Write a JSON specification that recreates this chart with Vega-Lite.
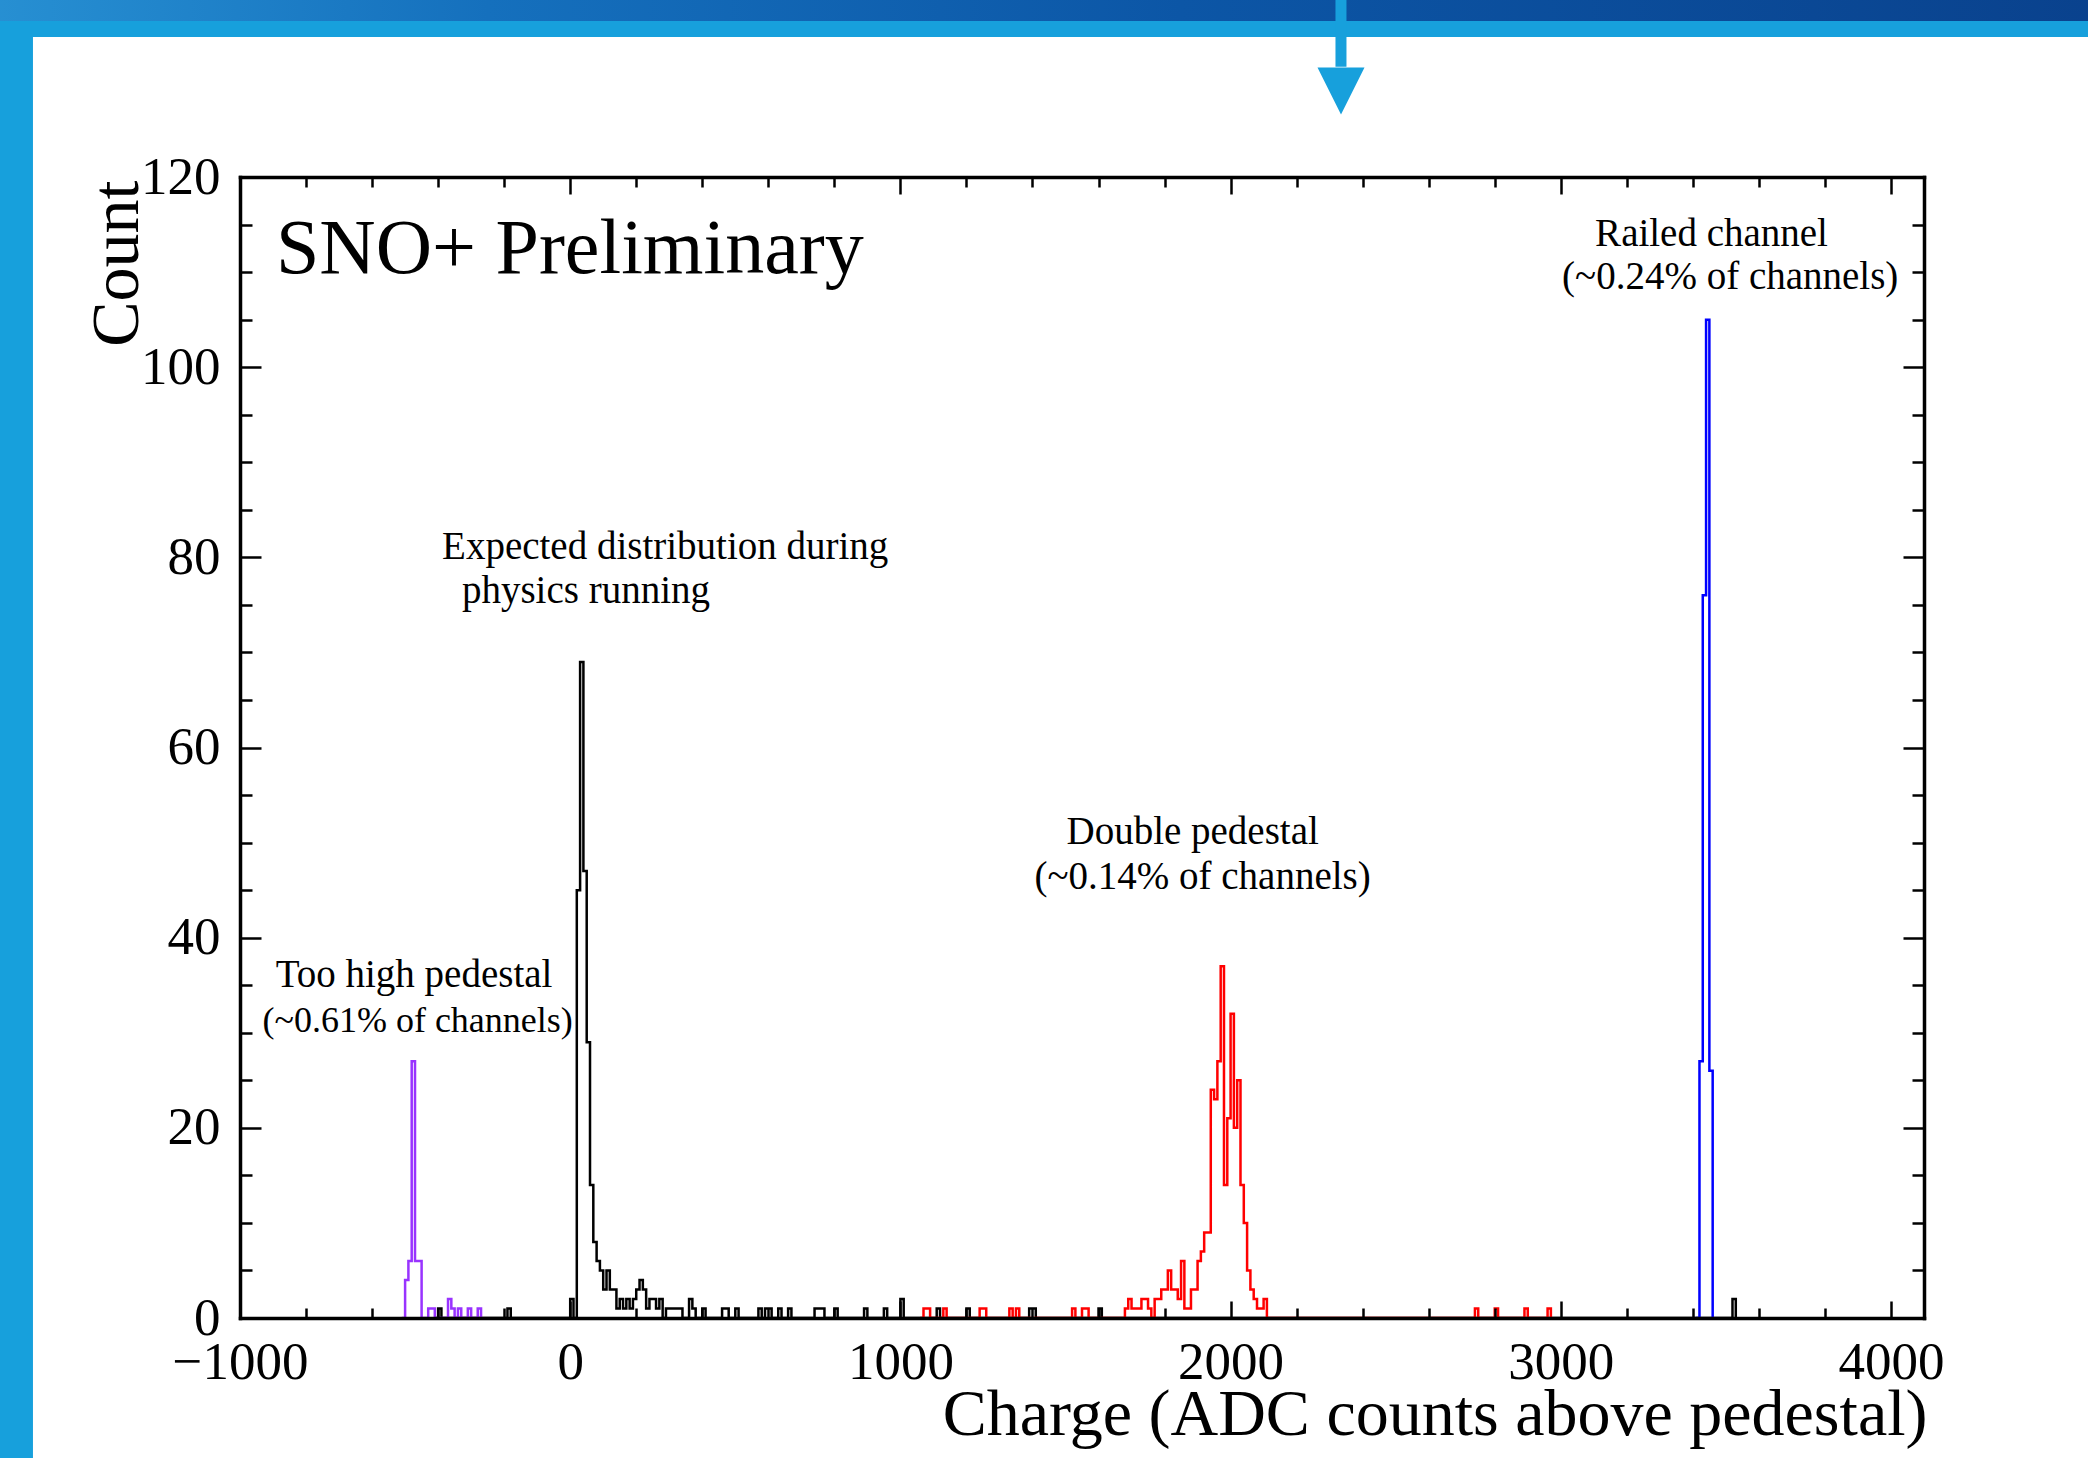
{
  "$schema": "https://vega.github.io/schema/vega-lite/v6.json",
  "width": 1684,
  "height": 1141,
  "autosize": {"type": "none"},
  "padding": {"left": 240, "top": 177, "right": 164, "bottom": 140},
  "background": "#ffffff",
  "config": {
    "view": {"stroke": null},
    "axis": {
      "labelFont": "Liberation Serif", "titleFont": "Liberation Serif",
      "labelColor": "#000000", "titleColor": "#000000", "tickColor": "#000000", "domainColor": "#000000",
      "tickWidth": 2.5, "domainWidth": 3.5, "grid": false, "zindex": 1,
      "labelFontSize": 53, "titleFontSize": 68, "titleFontWeight": "normal",
      "labelOverlap": false, "labelFlush": false, "domainCap": "square"
    }
  },
  "resolve": {"axis": {"x": "independent", "y": "independent"}},
  "layer": [
    {
      "data": {"values": [
        {"x": -2000, "x2": -1627, "y": -20, "y2": 145},
        {"x": -2000, "x2": 5000, "y": 134.73, "y2": 145}
      ]},
      "mark": {"type": "rect", "color": "#17a0dc", "clip": false},
      "encoding": {
        "x": {"field": "x", "type": "quantitative", "scale": {"domain": [-1000, 4100], "nice": false, "zero": false},
          "axis": {"orient": "bottom", "zindex": 1, "values": [-1000, 0, 1000, 2000, 3000, 4000], "ticks": false, "tickSize": 0, "domain": false,
            "labelPadding": 60, "labelBaseline": "alphabetic", "format": "d",
            "title": "Charge (ADC counts above pedestal)", "titleFontSize": 66, "titleX": 1687, "titleY": 116, "titleAlign": "right", "titleBaseline": "alphabetic", "titleAngle": 0}},
        "x2": {"field": "x2"},
        "y": {"field": "y", "type": "quantitative", "scale": {"domain": [0, 120], "nice": false, "zero": false},
          "axis": {"orient": "left", "zindex": 1, "values": [0, 20, 40, 60, 80, 100, 120], "ticks": false, "tickSize": 0, "domain": false,
            "labelPadding": 20, "format": "d",
            "title": "Count", "titleX": -103, "titleY": 3, "titleAngle": 270, "titleAlign": "right", "titleBaseline": "alphabetic"}},
        "y2": {"field": "y2"}
      }
    },
    {
      "data": {"values": [{"x": -2000, "x2": 5000, "y": 136.4, "y2": 145}]},
      "mark": {"type": "rect", "clip": false, "color": {"gradient": "linear", "x1": 0, "x2": 1, "y1": 0, "y2": 0,
        "stops": [{"offset": 0, "color": "#2a95d6"}, {"offset": 0.25, "color": "#1570bd"}, {"offset": 0.55, "color": "#0c56a6"}, {"offset": 1, "color": "#093f8a"}]}},
      "encoding": {
        "x": {"field": "x", "type": "quantitative", "scale": {"domain": [-1000, 4100], "nice": false, "zero": false},
          "axis": {"orient": "bottom", "zindex": 1, "values": [-1000, 0, 1000, 2000, 3000, 4000], "labels": false, "tickSize": -17, "domain": true, "title": null}},
        "x2": {"field": "x2"},
        "y": {"field": "y", "type": "quantitative", "scale": {"domain": [0, 120], "nice": false, "zero": false},
          "axis": {"orient": "left", "zindex": 1, "values": [0, 20, 40, 60, 80, 100, 120], "labels": false, "tickSize": -21, "domain": true, "title": null}},
        "y2": {"field": "y2"}
      }
    },
    {
      "data": {"values": [{"x": 2334.3, "y": 145, "y2": 131.6}]},
      "mark": {"type": "rule", "color": "#17a0dc", "strokeWidth": 11, "clip": false},
      "encoding": {
        "x": {"field": "x", "type": "quantitative", "scale": {"domain": [-1000, 4100], "nice": false, "zero": false},
          "axis": {"orient": "bottom", "zindex": 1, "values": [-800, -600, -400, -200, 200, 400, 600, 800, 1200, 1400, 1600, 1800, 2200, 2400, 2600, 2800, 3200, 3400, 3600, 3800], "labels": false, "tickSize": -10, "domain": false, "title": null}},
        "y": {"field": "y", "type": "quantitative", "scale": {"domain": [0, 120], "nice": false, "zero": false},
          "axis": {"orient": "left", "zindex": 1, "values": [5, 10, 15, 25, 30, 35, 45, 50, 55, 65, 70, 75, 85, 90, 95, 105, 110, 115], "labels": false, "tickSize": -12, "domain": false, "title": null}},
        "y2": {"field": "y2"}
      }
    },
    {
      "data": {"values": [{"x": 2334.3, "y": 129.05}]},
      "mark": {"type": "point", "shape": "M-1,-1L1,-1L0,1Z", "size": 2209, "filled": true, "color": "#17a0dc", "opacity": 1, "strokeWidth": 0, "clip": false},
      "encoding": {
        "x": {"field": "x", "type": "quantitative", "scale": {"domain": [-1000, 4100], "nice": false, "zero": false},
          "axis": {"orient": "top", "zindex": 1, "values": [-1000, 0, 1000, 2000, 3000, 4000], "labels": false, "tickSize": -17, "domain": true, "title": null}},
        "y": {"field": "y", "type": "quantitative", "scale": {"domain": [0, 120], "nice": false, "zero": false},
          "axis": {"orient": "right", "zindex": 1, "values": [0, 20, 40, 60, 80, 100, 120], "labels": false, "tickSize": -21, "domain": true, "title": null}}
      }
    },
    {
      "data": {"values": [
        {"s": "phys", "x": -410, "c": 0}, {"s": "phys", "x": -400, "c": 1}, {"s": "phys", "x": -390, "c": 0},
        {"s": "phys", "x": -190, "c": 1}, {"s": "phys", "x": -180, "c": 0},
        {"s": "phys", "x": 0, "c": 2}, {"s": "phys", "x": 10, "c": 0}, {"s": "phys", "x": 20, "c": 45},
        {"s": "phys", "x": 30, "c": 69}, {"s": "phys", "x": 40, "c": 47}, {"s": "phys", "x": 50, "c": 29},
        {"s": "phys", "x": 60, "c": 14}, {"s": "phys", "x": 70, "c": 8}, {"s": "phys", "x": 80, "c": 6},
        {"s": "phys", "x": 90, "c": 5}, {"s": "phys", "x": 100, "c": 3}, {"s": "phys", "x": 110, "c": 5},
        {"s": "phys", "x": 120, "c": 3}, {"s": "phys", "x": 130, "c": 3}, {"s": "phys", "x": 140, "c": 1},
        {"s": "phys", "x": 150, "c": 2}, {"s": "phys", "x": 160, "c": 1}, {"s": "phys", "x": 170, "c": 2},
        {"s": "phys", "x": 180, "c": 1}, {"s": "phys", "x": 190, "c": 2}, {"s": "phys", "x": 200, "c": 3},
        {"s": "phys", "x": 210, "c": 4}, {"s": "phys", "x": 220, "c": 3}, {"s": "phys", "x": 230, "c": 1},
        {"s": "phys", "x": 240, "c": 2}, {"s": "phys", "x": 250, "c": 2}, {"s": "phys", "x": 260, "c": 1},
        {"s": "phys", "x": 270, "c": 2}, {"s": "phys", "x": 280, "c": 0}, {"s": "phys", "x": 290, "c": 1},
        {"s": "phys", "x": 300, "c": 1}, {"s": "phys", "x": 310, "c": 1}, {"s": "phys", "x": 320, "c": 1},
        {"s": "phys", "x": 330, "c": 1}, {"s": "phys", "x": 340, "c": 0}, {"s": "phys", "x": 360, "c": 2},
        {"s": "phys", "x": 370, "c": 1}, {"s": "phys", "x": 380, "c": 0}, {"s": "phys", "x": 400, "c": 1},
        {"s": "phys", "x": 410, "c": 0}, {"s": "phys", "x": 460, "c": 1}, {"s": "phys", "x": 470, "c": 1},
        {"s": "phys", "x": 480, "c": 0}, {"s": "phys", "x": 500, "c": 1}, {"s": "phys", "x": 510, "c": 0},
        {"s": "phys", "x": 570, "c": 1}, {"s": "phys", "x": 580, "c": 0}, {"s": "phys", "x": 590, "c": 1},
        {"s": "phys", "x": 600, "c": 1}, {"s": "phys", "x": 610, "c": 0}, {"s": "phys", "x": 630, "c": 1},
        {"s": "phys", "x": 640, "c": 0}, {"s": "phys", "x": 660, "c": 1}, {"s": "phys", "x": 670, "c": 0},
        {"s": "phys", "x": 740, "c": 1}, {"s": "phys", "x": 750, "c": 1}, {"s": "phys", "x": 760, "c": 1},
        {"s": "phys", "x": 770, "c": 0}, {"s": "phys", "x": 800, "c": 1}, {"s": "phys", "x": 810, "c": 0},
        {"s": "phys", "x": 890, "c": 1}, {"s": "phys", "x": 900, "c": 0}, {"s": "phys", "x": 950, "c": 1},
        {"s": "phys", "x": 960, "c": 0}, {"s": "phys", "x": 1000, "c": 2}, {"s": "phys", "x": 1010, "c": 0},
        {"s": "phys", "x": 1110, "c": 1}, {"s": "phys", "x": 1120, "c": 0}, {"s": "phys", "x": 1200, "c": 1},
        {"s": "phys", "x": 1210, "c": 0}, {"s": "phys", "x": 1390, "c": 1}, {"s": "phys", "x": 1400, "c": 1},
        {"s": "phys", "x": 1410, "c": 0}, {"s": "phys", "x": 1600, "c": 1}, {"s": "phys", "x": 1610, "c": 0},
        {"s": "phys", "x": 3520, "c": 2}, {"s": "phys", "x": 3530, "c": 0},

        {"s": "high", "x": -510, "c": 0}, {"s": "high", "x": -500, "c": 4}, {"s": "high", "x": -490, "c": 6},
        {"s": "high", "x": -480, "c": 27}, {"s": "high", "x": -470, "c": 6}, {"s": "high", "x": -460, "c": 6},
        {"s": "high", "x": -450, "c": 0}, {"s": "high", "x": -430, "c": 1}, {"s": "high", "x": -420, "c": 1},
        {"s": "high", "x": -410, "c": 0}, {"s": "high", "x": -370, "c": 2}, {"s": "high", "x": -360, "c": 1},
        {"s": "high", "x": -350, "c": 0}, {"s": "high", "x": -340, "c": 1}, {"s": "high", "x": -330, "c": 0},
        {"s": "high", "x": -310, "c": 1}, {"s": "high", "x": -300, "c": 0}, {"s": "high", "x": -280, "c": 1},
        {"s": "high", "x": -270, "c": 0},

        {"s": "double", "x": 1060, "c": 0}, {"s": "double", "x": 1070, "c": 1}, {"s": "double", "x": 1080, "c": 1},
        {"s": "double", "x": 1090, "c": 0}, {"s": "double", "x": 1130, "c": 1}, {"s": "double", "x": 1140, "c": 0},
        {"s": "double", "x": 1240, "c": 1}, {"s": "double", "x": 1250, "c": 1}, {"s": "double", "x": 1260, "c": 0},
        {"s": "double", "x": 1330, "c": 1}, {"s": "double", "x": 1340, "c": 0}, {"s": "double", "x": 1350, "c": 1},
        {"s": "double", "x": 1360, "c": 0}, {"s": "double", "x": 1520, "c": 1}, {"s": "double", "x": 1530, "c": 0},
        {"s": "double", "x": 1550, "c": 1}, {"s": "double", "x": 1560, "c": 1}, {"s": "double", "x": 1570, "c": 0},
        {"s": "double", "x": 1680, "c": 1}, {"s": "double", "x": 1690, "c": 2}, {"s": "double", "x": 1700, "c": 1},
        {"s": "double", "x": 1710, "c": 1}, {"s": "double", "x": 1720, "c": 1}, {"s": "double", "x": 1730, "c": 2},
        {"s": "double", "x": 1740, "c": 2}, {"s": "double", "x": 1750, "c": 1}, {"s": "double", "x": 1760, "c": 0},
        {"s": "double", "x": 1770, "c": 2}, {"s": "double", "x": 1780, "c": 2}, {"s": "double", "x": 1790, "c": 3},
        {"s": "double", "x": 1800, "c": 3}, {"s": "double", "x": 1810, "c": 5}, {"s": "double", "x": 1820, "c": 3},
        {"s": "double", "x": 1830, "c": 3}, {"s": "double", "x": 1840, "c": 2}, {"s": "double", "x": 1850, "c": 6},
        {"s": "double", "x": 1860, "c": 1}, {"s": "double", "x": 1870, "c": 1}, {"s": "double", "x": 1880, "c": 3},
        {"s": "double", "x": 1890, "c": 3}, {"s": "double", "x": 1900, "c": 6}, {"s": "double", "x": 1910, "c": 7},
        {"s": "double", "x": 1920, "c": 9}, {"s": "double", "x": 1930, "c": 9}, {"s": "double", "x": 1940, "c": 24},
        {"s": "double", "x": 1950, "c": 23}, {"s": "double", "x": 1960, "c": 27}, {"s": "double", "x": 1970, "c": 37},
        {"s": "double", "x": 1980, "c": 14}, {"s": "double", "x": 1990, "c": 21}, {"s": "double", "x": 2000, "c": 32},
        {"s": "double", "x": 2010, "c": 20}, {"s": "double", "x": 2020, "c": 25}, {"s": "double", "x": 2030, "c": 14},
        {"s": "double", "x": 2040, "c": 10}, {"s": "double", "x": 2050, "c": 5}, {"s": "double", "x": 2060, "c": 3},
        {"s": "double", "x": 2070, "c": 2}, {"s": "double", "x": 2080, "c": 1}, {"s": "double", "x": 2090, "c": 1},
        {"s": "double", "x": 2100, "c": 2}, {"s": "double", "x": 2110, "c": 0},
        {"s": "double", "x": 2740, "c": 1}, {"s": "double", "x": 2750, "c": 0}, {"s": "double", "x": 2800, "c": 1},
        {"s": "double", "x": 2810, "c": 0}, {"s": "double", "x": 2890, "c": 1}, {"s": "double", "x": 2900, "c": 0},
        {"s": "double", "x": 2960, "c": 1}, {"s": "double", "x": 2970, "c": 0},

        {"s": "railed", "x": 3410, "c": 0}, {"s": "railed", "x": 3420, "c": 27}, {"s": "railed", "x": 3430, "c": 76},
        {"s": "railed", "x": 3440, "c": 105}, {"s": "railed", "x": 3450, "c": 26}, {"s": "railed", "x": 3460, "c": 0}
      ]},
      "mark": {"type": "line", "interpolate": "step-after", "strokeWidth": 2.5, "strokeCap": "butt"},
      "encoding": {
        "x": {"field": "x", "type": "quantitative", "scale": {"domain": [-1000, 4100], "nice": false, "zero": false},
          "axis": {"orient": "top", "zindex": 1, "values": [-800, -600, -400, -200, 200, 400, 600, 800, 1200, 1400, 1600, 1800, 2200, 2400, 2600, 2800, 3200, 3400, 3600, 3800], "labels": false, "tickSize": -10, "domain": false, "title": null}},
        "y": {"field": "c", "type": "quantitative", "scale": {"domain": [0, 120], "nice": false, "zero": false},
          "axis": {"orient": "right", "zindex": 1, "values": [5, 10, 15, 25, 30, 35, 45, 50, 55, 65, 70, 75, 85, 90, 95, 105, 110, 115], "labels": false, "tickSize": -12, "domain": false, "title": null}},
        "color": {"field": "s", "type": "nominal", "legend": null,
          "scale": {"domain": ["high", "phys", "double", "railed"], "range": ["#9933ff", "#000000", "#ff0000", "#0000ff"]}}
      }
    },
    {
      "data": {"values": [
        {"x": -388, "y": 79.8, "t": "Expected distribution during"},
        {"x": -328, "y": 75.2, "t": "physics running"},
        {"x": -892, "y": 34.8, "t": "Too high pedestal"},
        {"x": 1503, "y": 49.85, "t": "Double pedestal"},
        {"x": 1406, "y": 45.1, "t": "(~0.14% of channels)"},
        {"x": 3104, "y": 112.7, "t": "Railed channel"},
        {"x": 3004, "y": 108.2, "t": "(~0.24% of channels)"}
      ]},
      "mark": {"type": "text", "align": "left", "baseline": "alphabetic", "font": "Liberation Serif", "fontSize": 39, "color": "#000000"},
      "encoding": {
        "x": {"field": "x", "type": "quantitative", "axis": null},
        "y": {"field": "y", "type": "quantitative", "axis": null},
        "text": {"field": "t"}
      }
    },
    {
      "data": {"values": [{"x": -932, "y": 30.1, "t": "(~0.61% of channels)"}]},
      "mark": {"type": "text", "align": "left", "baseline": "alphabetic", "font": "Liberation Serif", "fontSize": 36, "color": "#000000"},
      "encoding": {
        "x": {"field": "x", "type": "quantitative", "axis": null},
        "y": {"field": "y", "type": "quantitative", "axis": null},
        "text": {"field": "t"}
      }
    },
    {
      "data": {"values": [{"x": -891, "y": 109.9, "t": "SNO+ Preliminary"}]},
      "mark": {"type": "text", "align": "left", "baseline": "alphabetic", "font": "Liberation Serif", "fontSize": 78, "color": "#000000"},
      "encoding": {
        "x": {"field": "x", "type": "quantitative", "axis": null},
        "y": {"field": "y", "type": "quantitative", "axis": null},
        "text": {"field": "t"}
      }
    }
  ]
}
